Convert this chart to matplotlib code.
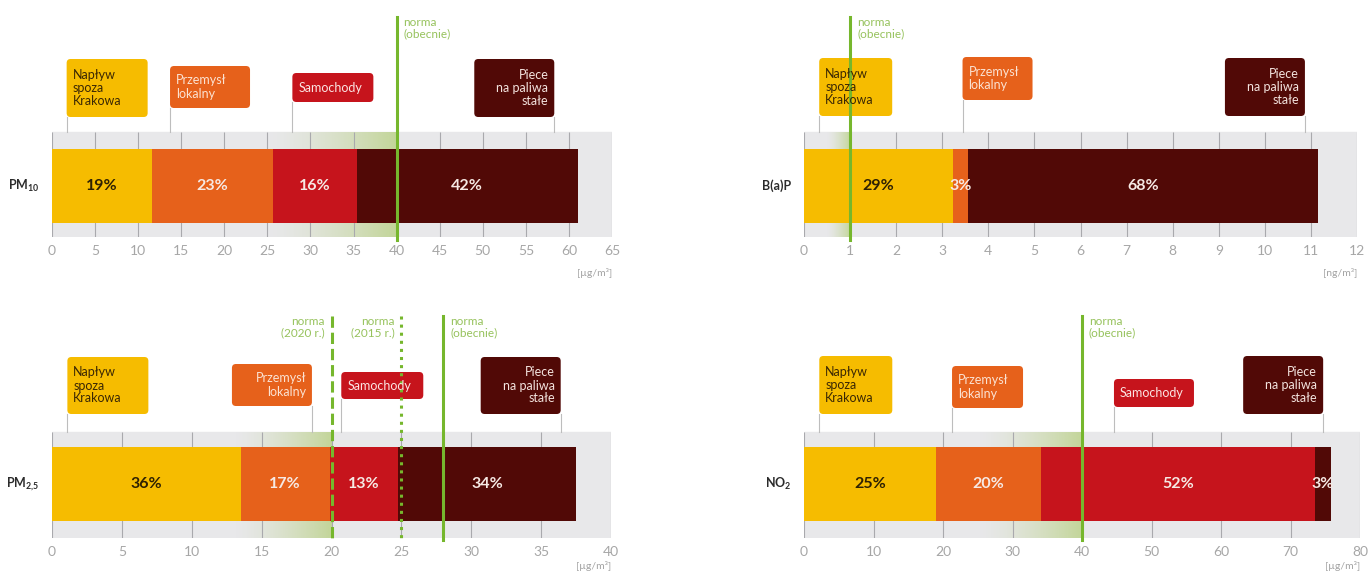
import matplotlib
matplotlib.use("Agg")
import matplotlib.pyplot as plt
import numpy as np
from matplotlib.colors import to_rgb
from matplotlib.patches import FancyBboxPatch

plt.rcParams['font.family'] = ['Lato', 'DejaVu Sans']
plt.rcParams['mathtext.fontset'] = 'custom'
plt.rcParams['mathtext.rm'] = 'Lato:bold'
plt.rcParams['mathtext.default'] = 'rm'

# --- data -----------------------------------------------------------
sources = ["Napływ\nspoza\nKrakowa", "Przemysł\nlokalny", "Samochody", "Piece\nna paliwa\nstałe"]
colors = ["#F6BC00", "#E6611B", "#C6141C", "#510906"]
text_colors = ["#3A2704", "#FBE2D2", "#FBE4E2", "#F3E3DE"]

pollutants = ["PM$_{10}$", "B(a)P", "PM$_{2{,}5}$", "NO$_2$"]
totals = [61.0, 11.15, 37.5, 75.8]
shares = [
    [19, 23, 16, 42],
    [29, 3, 0, 68],
    [36, 17, 13, 34],
    [25, 20, 52, 3],
]
x_max = [65, 12, 40, 80]
x_step = [5, 1, 5, 10]
units = ["[µg/m³]", "[ng/m³]", "[µg/m³]", "[µg/m³]"]

# norms: (value, linestyle, label)
norms = [
    [(40, "solid", "norma\n(obecnie)")],
    [(1, "solid", "norma\n(obecnie)")],
    [(20, "dashed", "norma\n(2020 r.)"), (25, "dotted", "norma\n(2015 r.)"),
     (28, "solid", "norma\n(obecnie)")],
    [(40, "solid", "norma\n(obecnie)")],
]
gradient_start = [25, 0.5, 13, 25]

# --- layout (pixels, y measured from top of figure) -------------------
W, H = 1370, 575
panel_x = [(52, 612), (804, 1357), (52, 611), (804, 1360)]
panel_y = [(5, 237), (5, 237), (300, 538), (300, 538)]
band_top = [132, 132, 432, 432]
bar_span = [(149, 223), (149, 223), (447, 521), (447, 521)]
line_span = [(17, 240), (17, 240), (316, 540), (316, 540)]
unit_y = [273, 273, 566, 566]
# label boxes: (source index, connector value, side, top, bottom, width)
boxes = [
    [(0, 1.7, "L", 59, 117, 81), (1, 13.7, "L", 66, 108, 80),
     (2, 27.9, "L", 73, 102, 81), (3, 58.3, "R", 59, 117, 80)],
    [(0, 0.33, "L", 58, 116, 73), (1, 3.44, "L", 57, 100, 70),
     (3, 10.87, "R", 58, 116, 80)],
    [(0, 1.1, "L", 357, 414, 81), (1, 18.6, "R", 364, 406, 80),
     (2, 20.7, "L", 372, 399, 82), (3, 36.4, "R", 357, 414, 80)],
    [(0, 2.2, "L", 356, 414, 73), (1, 21.3, "L", 366, 408, 71),
     (2, 44.6, "L", 379, 407, 80), (3, 74.7, "R", 356, 414, 80)],
]

green = "#76B72D"
green_text = "#96C25C"
grad = np.zeros((1, 256, 4))
grad[..., :3] = to_rgb("#BCD28A")
grad[..., 3] = np.linspace(0, 1, 256) ** 1.4 * 0.85

fig = plt.figure(figsize=(W / 100, H / 100), dpi=100)

for i in range(4):
    x0, x1 = panel_x[i]
    y0, y1 = panel_y[i]
    ax = fig.add_axes([x0 / W, 1 - y1 / H, (x1 - x0) / W, (y1 - y0) / H])
    ax.set_xlim(0, x_max[i])
    ax.set_ylim(y1, y0)
    for s in ax.spines.values():
        s.set_visible(False)
    ax.set_yticks([])
    ticks = np.arange(0, x_max[i] + 0.001, x_step[i])
    ax.set_xticks(ticks)
    ax.set_xticklabels([f"{t:g}" for t in ticks])
    ax.tick_params(axis="x", length=0, pad=6, labelsize=10, labelcolor="#A6A6A6")
    ax.patch.set_alpha(0)
    ppx = (x1 - x0) / x_max[i]

    # background band + grid
    ax.axhspan(band_top[i], y1, color="#E8E8EA", zorder=0)
    ax.vlines(ticks, band_top[i], y1, color="#A9A9AD", lw=0.8, zorder=1.5)

    # green gradient towards the lowest norm
    lowest = min(n[0] for n in norms[i])
    ax.imshow(grad, extent=[gradient_start[i], lowest, y1, band_top[i]],
              aspect="auto", zorder=1, interpolation="bilinear")

    # stacked bar
    seg = np.array(totals[i]) * np.array(shares[i]) / 100
    lefts = np.concatenate([[0], np.cumsum(seg)[:-1]])
    yc = (bar_span[i][0] + bar_span[i][1]) / 2
    bh = bar_span[i][1] - bar_span[i][0]
    ax.barh([yc] * 4, seg, left=lefts, height=bh, color=colors, zorder=2)
    for k in range(4):
        if shares[i][k] == 0:
            continue
        ax.text(lefts[k] + seg[k] / 2, yc, f"{shares[i][k]}%", ha="center", va="center",
                fontsize=11.5, fontweight="bold",
                color="#2E2103" if k == 0 else "#F6E9E4", zorder=3)

    # row label
    ax.annotate(pollutants[i], (0, yc), xytext=(-9, 0), textcoords="offset points",
                ha="right", va="center", fontsize=9, fontweight="bold",
                color="#2B2B2B", annotation_clip=False)

    # unit
    ax.text(x_max[i], unit_y[i], units[i], ha="right", va="center", fontsize=7.5,
            color="#A3A3A3", clip_on=False)

    # norm lines
    for val, ls, lab in norms[i]:
        ax.plot([val, val], line_span[i], color=green, lw=2.2, ls=ls,
                zorder=4, clip_on=False)
        if ls == "solid":
            ax.annotate(lab, (val, line_span[i][0]), xytext=(5, 0), textcoords="offset points",
                        ha="left", va="top", fontsize=8.5, color=green_text,
                        linespacing=1.05, annotation_clip=False)
        else:
            ax.annotate(lab, (val, line_span[i][0]), xytext=(-5, 0), textcoords="offset points",
                        ha="right", va="top", fontsize=8.5, color=green_text,
                        linespacing=1.05, multialignment="right", annotation_clip=False)

    # label boxes
    for src, cx, side, top, bot, wpx in boxes[i]:
        wd = wpx / ppx
        left = cx if side == "L" else cx - wd
        ax.plot([cx, cx], [bot, band_top[i]], color="#BDBDBD", lw=0.8, zorder=1.6)
        rs = 4 / ppx
        ax.add_patch(FancyBboxPatch((left, top), wd, bot - top,
                                    boxstyle=f"round,pad=0,rounding_size={rs}",
                                    mutation_aspect=ppx, fc=colors[src], ec="none",
                                    zorder=3, clip_on=False))
        pad = 6 / ppx
        if side == "L":
            tx, ha = left + pad, "left"
        else:
            tx, ha = left + wd - pad, "right"
        ax.text(tx, (top + bot) / 2, sources[src], ha=ha, va="center", fontsize=9,
                color=text_colors[src], linespacing=1.1, multialignment=ha,
                zorder=4, clip_on=False)

fig.savefig("out.png", dpi=100)
